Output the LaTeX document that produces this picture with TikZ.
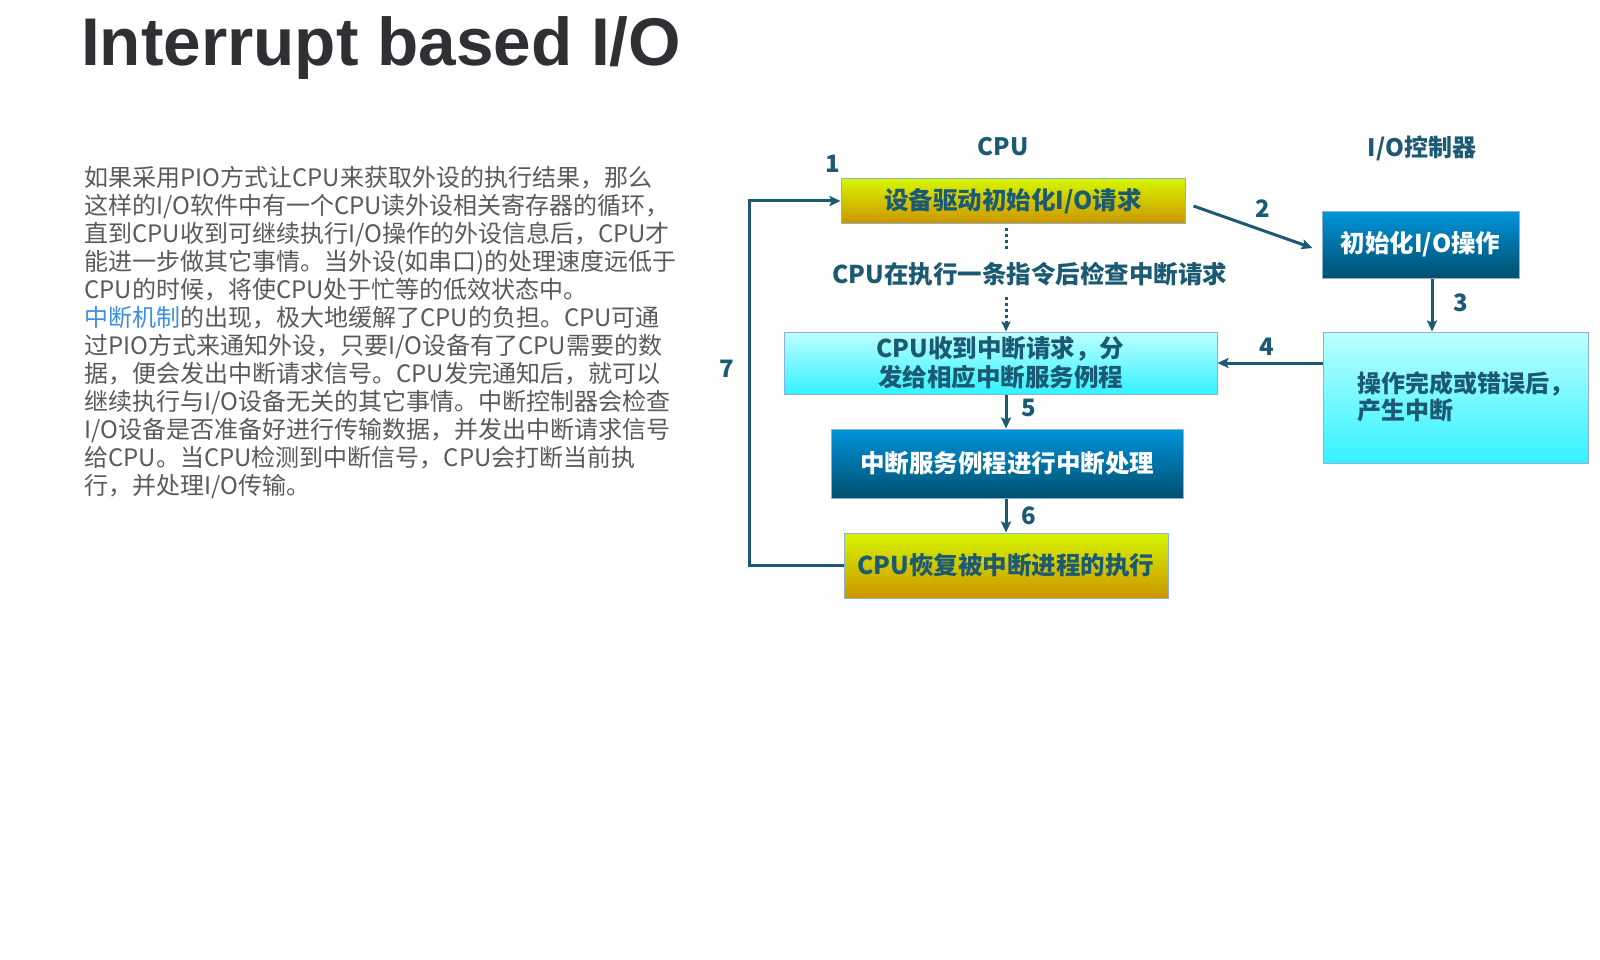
\documentclass[tikz,border=0pt]{standalone}
\usepackage{fontspec}
\setmainfont{Liberation Sans}
\newfontfamily\cjk{Noto Sans CJK SC}
\usetikzlibrary{arrows.meta}

\definecolor{ink}{HTML}{1B5A72}
\definecolor{bodygray}{HTML}{5A5A5A}
\definecolor{linkblue}{HTML}{3C8FE6}
\definecolor{titlegray}{HTML}{2E3033}
\definecolor{yelTop}{HTML}{D6F500}
\definecolor{yelBot}{HTML}{CC9600}
\definecolor{cyTop}{HTML}{BDFFFF}
\definecolor{cyBot}{HTML}{33F2FF}
\definecolor{blTop}{HTML}{0094DC}
\definecolor{blBot}{HTML}{00506E}
\definecolor{edge}{HTML}{8CB0D8}

\tikzset{
  bodyline/.style={anchor=base west, inner sep=0pt, text=bodygray,
    font=\cjk\fontsize{24}{28}\selectfont},
  boxbase/.style={draw=edge, line width=1pt, inner sep=0pt,
    font=\cjk\bfseries\fontsize{24.5}{29}\selectfont, align=center},
  yelbox/.style={boxbase, top color=yelTop, bottom color=yelBot, text=ink},
  cybox/.style={boxbase, top color=cyTop, bottom color=cyBot, text=ink},
  blbox/.style={boxbase, top color=blTop, bottom color=blBot, text=white},
  steplabel/.style={text=ink, font=\cjk\bfseries\fontsize{24}{28}\selectfont, inner sep=0pt},
  flow/.style={draw=ink, line width=3pt, -{Stealth[length=11pt,width=10pt,inset=2pt]}},
  dotflow/.style={draw=ink, line width=3pt, dash pattern=on 3pt off 3pt},
}

\begin{document}
\begin{tikzpicture}[x=1pt, y=-1pt]
\useasboundingbox (0,0) rectangle (1600,960);

% heading
\node[anchor=base west, inner sep=0pt, text=titlegray,
  font=\bfseries\fontsize{67.5}{70}\selectfont] (title) at (81,66) {Interrupt based I/O};

% explanatory paragraph
\node[bodyline] (l1) at (84,186.5) {如果采用PIO方式让CPU来获取外设的执行结果，那么};
\node[bodyline] (l2) at (84,214.5) {这样的I/O软件中有一个CPU读外设相关寄存器的循环，};
\node[bodyline] (l3) at (84,242.5) {直到CPU收到可继续执行I/O操作的外设信息后，CPU才};
\node[bodyline] (l4) at (84,270.5) {能进一步做其它事情。当外设(如串口)的处理速度远低于};
\node[bodyline] (l5) at (84,298.5) {CPU的时候，将使CPU处于忙等的低效状态中。};
\node[bodyline] (l6) at (84,326.5) {\textcolor{linkblue}{中断机制}的出现，极大地缓解了CPU的负担。CPU可通};
\node[bodyline] (l7) at (84,354.5) {过PIO方式来通知外设，只要I/O设备有了CPU需要的数};
\node[bodyline] (l8) at (84,382.5) {据，便会发出中断请求信号。CPU发完通知后，就可以};
\node[bodyline] (l9) at (84,410.5) {继续执行与I/O设备无关的其它事情。中断控制器会检查};
\node[bodyline] (l10) at (84,438.5) {I/O设备是否准备好进行传输数据，并发出中断请求信号};
\node[bodyline] (l11) at (84,466.5) {给CPU。当CPU检测到中断信号，CPU会打断当前执};
\node[bodyline] (l12) at (84,494.5) {行，并处理I/O传输。};

% column headings
\node[steplabel] (hcpu) at (1003,147) {CPU};
\node[steplabel] (hio) at (1422,148) {I/O控制器};

% CPU side
\node[yelbox, minimum width=344, minimum height=44] (req) at (1013,201) {设备驱动初始化I/O请求};
\node[steplabel, minimum height=46, font=\cjk\bfseries\fontsize{24.5}{28}\selectfont] (check) at (1030,274) {CPU在执行一条指令后检查中断请求};
\node[cybox, minimum width=433, minimum height=62] (disp) at (1000.5,363) {CPU收到中断请求，分\\发给相应中断服务例程};
\node[blbox, minimum width=352, minimum height=69] (isr) at (1007,463.5) {中断服务例程进行中断处理};
\node[yelbox, minimum width=324, minimum height=65] (resume) at (1006,565.5) {CPU恢复被中断进程的执行};

% I/O controller side
\node[blbox, minimum width=197, minimum height=67] (ioinit) at (1420.5,244.5) {初始化I/O操作};
\node[cybox, minimum width=265, minimum height=131] (iodone) at (1455.5,397.5) {};
\node[anchor=west, text=ink, inner sep=0pt, align=left,
  font=\cjk\bfseries\fontsize{24}{27}\selectfont] (iotext) at (1357,397) {操作完成或错误后，\\产生中断};

% axes for the vertical connectors
\coordinate (cx) at (1006,0);
\coordinate (iox) at (1432,0);
\coordinate (loopx) at (749,0);

% connectors
\draw[dotflow, shorten <=4pt] (req.south -| cx) -- (check.north -| cx);
\draw[dotflow, -{Stealth[length=10pt,width=9pt,inset=2pt]}] (check.south -| cx) -- (disp.north -| cx);
\draw[flow] ([shift={(8,5)}]req.east) -- ([shift={(-9,3.5)}]ioinit.west);
\draw[flow] (ioinit.south -| iox) -- (iodone.north -| iox);
\draw[flow] (iodone.west |- disp.east) -- (disp.east);
\draw[flow] (disp.south -| cx) -- (isr.north -| cx);
\draw[flow] (isr.south -| cx) -- (resume.north -| cx);
\draw[flow] (resume.west) -- (resume.west -| loopx) -- (req.west -| loopx) -- (req.west);

% step numbers
\node[steplabel] (n1) at (833,164) {1};
\node[steplabel] (n2) at (1263,209) {2};
\node[steplabel] (n3) at (1461,303) {3};
\node[steplabel] (n4) at (1267,347) {4};
\node[steplabel] (n5) at (1029,408) {5};
\node[steplabel] (n6) at (1029,516) {6};
\node[steplabel] (n7) at (727,369) {7};
\end{tikzpicture}
\end{document}
